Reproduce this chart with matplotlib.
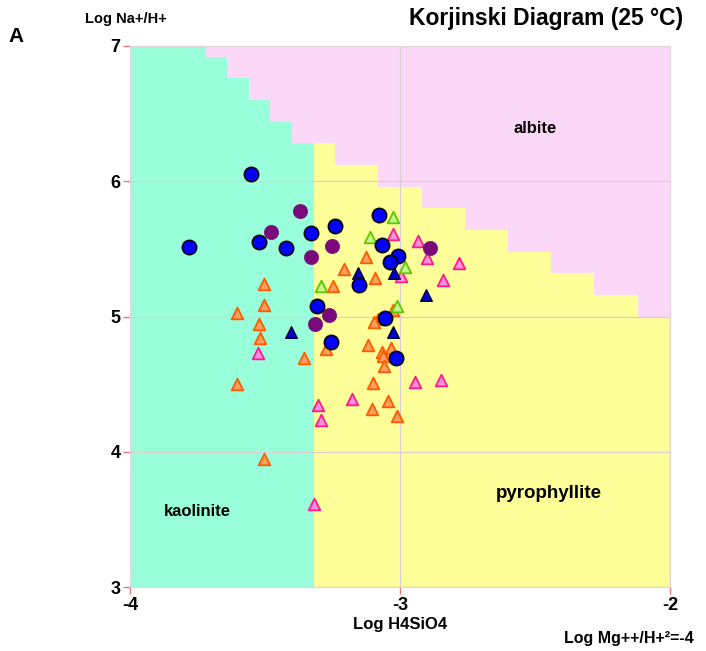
import numpy as np
import matplotlib
matplotlib.use("Agg")
import matplotlib.pyplot as plt
from matplotlib.colors import ListedColormap

plt.rcParams['font.family'] = ['Liberation Sans', 'DejaVu Sans']
plt.rcParams['font.weight'] = 'bold'
plt.rcParams['axes.unicode_minus'] = False

# phase field boundaries (Log Na+/H+ vs Log H4SiO4)
kaol_pyro_si = -3.32          # kaolinite | pyrophyllite
kaol_alb_c = -0.44            # albite above Na + 2*Si = c
pyro_alb_c = 2.96             # albite above Na + Si = c
grid_si = np.linspace(-4, -2, 26)
grid_na = np.linspace(3, 7, 26)

# samples, Log H4SiO4 / Log Na+/H+
blue_si = [-3.553, -3.781, -3.523, -3.423, -3.331, -3.241, -3.077, -3.067, -3.009, -3.037,
           -3.151, -3.308, -3.055, -3.257, -3.016]
blue_na = [6.056, 5.516, 5.549, 5.509, 5.617, 5.671, 5.748, 5.526, 5.447, 5.401,
           5.231, 5.080, 4.987, 4.814, 4.695]

purple_si = [-3.371, -3.478, -3.331, -3.251, -2.888, -3.263, -3.314]
purple_na = [5.780, 5.627, 5.442, 5.521, 5.510, 5.013, 4.948]

green_si = [-3.027, -3.112, -2.980, -3.291, -3.012]
green_na = [5.736, 5.588, 5.366, 5.228, 5.080]

navy_si = [-3.156, -3.023, -2.903, -3.027, -3.403]
navy_na = [5.324, 5.324, 5.159, 4.889, 4.883]

pink_si = [-3.027, -2.933, -2.899, -2.780, -2.997, -2.839, -2.944, -2.850, -3.177, -3.304,
           -3.292, -3.527, -3.319]
pink_na = [5.608, 5.555, 5.429, 5.393, 5.299, 5.268, 4.514, 4.530, 4.392, 4.343,
           4.235, 4.730, 3.611]

orange_si = [-3.503, -3.503, -3.604, -3.523, -3.517, -3.356, -3.604, -3.503,
             -3.126, -3.206, -3.091, -3.247, -3.025, -3.082, -3.098, -3.273, -3.117,
             -3.033, -3.067, -3.064, -3.061, -3.101, -3.043, -3.103, -3.012]
orange_na = [5.239, 5.087, 5.028, 4.945, 4.839, 4.691, 4.501, 3.944,
             5.438, 5.349, 5.288, 5.228, 5.048, 4.980, 4.961, 4.762, 4.791,
             4.767, 4.739, 4.706, 4.632, 4.511, 4.375, 4.314, 4.264]

# classify grid: 0 kaolinite, 1 pyrophyllite, 2 albite
SI, NA = np.meshgrid(grid_si, grid_na)
phase = np.where(SI < kaol_pyro_si,
                 np.where(NA + 2 * SI > kaol_alb_c, 2, 0),
                 np.where(NA + SI > pyro_alb_c, 2, 1))
cmap = ListedColormap(['#99FFDB', '#FFFF99', '#FCD8F8'])

W, H = 706, 651
fig = plt.figure(figsize=(W / 100, H / 100), dpi=100)
ax = fig.add_axes([130 / W, 1 - 587 / H, 540 / W, 541 / H])

ax.pcolormesh(grid_si, grid_na, phase, cmap=cmap, vmin=0, vmax=2, shading='nearest', zorder=0)

ax.scatter(orange_si, orange_na, marker='^', s=70, c='#FFA060', edgecolors='#FF5A00', linewidths=1.3, zorder=3)
ax.scatter(pink_si, pink_na, marker='^', s=70, c='#FF90DC', edgecolors='#FF1A8C', linewidths=1.3, zorder=3)
ax.scatter(green_si, green_na, marker='^', s=70, c='#C8F58C', edgecolors='#5CC800', linewidths=1.3, zorder=3)
ax.scatter(navy_si, navy_na, marker='^', s=70, c='#0000CC', edgecolors='#000033', linewidths=1.0, zorder=3)
ax.scatter(purple_si, purple_na, marker='o', s=105, c='#7A0A7A', edgecolors='#7A0A7A', linewidths=0.5, zorder=3)
ax.scatter(blue_si, blue_na, marker='o', s=105, c='#0000FF', edgecolors='black', linewidths=1.2, zorder=3)

ax.set_xlim(-4, -2)
ax.set_ylim(3, 7)
ax.set_xticks([-4, -3, -2])
ax.set_yticks([3, 4, 5, 6, 7])
ax.grid(True, color='#d9cfd4', linewidth=0.9)
ax.tick_params(length=5, width=1, color='#E87878', pad=2, labelsize=13)
for lab in ax.get_xticklabels() + ax.get_yticklabels():
    lab.set_fontweight('bold')
for sp in ax.spines.values():
    sp.set_color('#e2d6dc')
    sp.set_linewidth(0.8)

ax.text(-2.5, 6.39, 'albite', fontsize=12, ha='center', va='center')
ax.text(-3.75, 3.56, 'kaolinite', fontsize=12, ha='center', va='center')
ax.text(-2.45, 3.69, 'pyrophyllite', fontsize=13.5, ha='center', va='center')

fig.text(16 / W, 1 - 37 / H, 'A', fontsize=15, ha='center', va='center')
fig.text(85 / W, 1 - 19 / H, 'Log Na+/H+', fontsize=10.5, ha='left', va='center')
fig.text(683 / W, 1 - 19 / H, 'Korjinski Diagram (25 °C)', fontsize=16.5, ha='right', va='center')
fig.text(400 / W, 1 - 625 / H, 'Log H4SiO4', fontsize=12, ha='center', va='center')
fig.text(694 / W, 1 - 638 / H, 'Log Mg++/H+²=-4', fontsize=11.5, ha='right', va='center')

fig.savefig('out.png', dpi=100)
